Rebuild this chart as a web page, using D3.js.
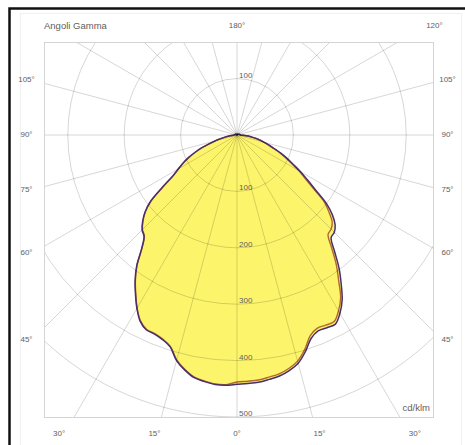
<!DOCTYPE html>
<html>
<head>
<meta charset="utf-8">
<script src="https://cdn.jsdelivr.net/npm/d3@7"></script>
<style>
body { margin: 0; background: #fff; }
text { font-family: "Liberation Sans", Arial, sans-serif; fill: #606060; }
</style>
</head>
<body>
<div id="chart"></div>
<script>
///////////////////// DATA /////////////////////////
// gamma angles (deg), 0 = straight down, 180 = straight up
const gamma = [0, 2.5, 5, 7.5, 10, 12.5, 15, 17.5, 20, 22.5, 25, 27.5, 30, 32.5, 35, 37.5,
	       40, 42.5, 45, 47.5, 50, 52.5, 55, 57.5, 60, 62.5, 65, 67.5, 70, 72.5, 75, 77.5,
	       80, 82.5, 85, 87.5, 90, 100, 110, 120, 130, 140, 150, 160, 170, 180];

// intensities cd/klm, plane C0-C180 (right half = C0, left half = C180)
const c0 = [442, 441, 440, 437, 434, 428, 419, 403, 384, 376, 377, 378, 365, 347, 322, 297,
	    269, 247, 244, 236, 221, 200, 170, 148, 130, 112, 98, 84, 70, 60, 50, 42,
	    34, 26, 17, 10, 6, 5, 4, 3, 2, 2, 1, 1, 0, 0];
const c180 = [443, 444, 444, 441, 437, 427, 414, 394, 386, 382, 381, 372, 355, 335, 315, 292,
	      263, 244, 238, 227, 213, 193, 161, 135, 120, 108, 95, 81, 67, 52, 40, 30,
	      22, 15, 10, 7, 5, 4, 3, 3, 2, 1, 1, 1, 0, 0];

// plane C90-C270 (right half = C90, left half = C270)
const c90 = [438, 437, 436, 433, 430, 424, 415, 399, 379, 371, 372, 373, 360, 342, 314, 289,
	     261, 239, 236, 229, 213, 195, 165, 143, 127, 109, 95, 82, 68, 58, 49, 41,
	     33, 25, 16, 9, 5, 5, 4, 3, 2, 2, 1, 1, 0, 0];
const c270 = [442, 443, 443, 440, 436, 426, 413, 393, 385, 381, 380, 371, 354, 334, 314, 291,
	      262, 243, 237, 226, 212, 192, 160, 134, 119, 107, 94, 80, 66, 51, 39, 29,
	      21, 14, 9, 6, 4, 4, 3, 3, 2, 1, 1, 1, 0, 0];

const radialTicks = [100, 200, 300, 400, 500];
const spokeAngles = [0, 15, 30, 45, 60, 75, 90, 105, 120, 135, 150, 165, 180,
		     195, 210, 225, 240, 255, 270, 285, 300, 315, 330, 345];
const topAngles = [180, 120];
const sideAngles = [105, 90, 75, 60, 45];
const bottomAngles = [-30, -15, 0, 15, 30];

///////////////////// LAYOUT /////////////////////////
let width = 465, height = 445;
let cx = 237, cy = 135;
let r = d3.scaleLinear().domain([0, 500]).range([0, 282]);
let plot = {x0: 44, x1: 433, y0: 42, y1: cy + r(500)};
let rad = d => d * Math.PI / 180;

let svg = d3.select("#chart")
    .append("svg")
    .attr("width", width)
    .attr("height", height);

svg.append("defs")
    .append("clipPath")
    .attr("id", "plot-clip")
    .append("rect")
    .attr("x", plot.x0).attr("y", plot.y0)
    .attr("width", plot.x1 - plot.x0).attr("height", plot.y1 - plot.y0);

// faint outer frame + black edge of the screenshot
svg.append("rect")
    .attr("x", 20.5).attr("y", 13.5)
    .attr("width", 441).attr("height", 440)
    .style("fill", "none")
    .style("stroke", "#f0f0f0");

svg.append("path")
    .attr("d", "M9.5,445V8.5H465")
    .style("fill", "none")
    .style("stroke", "#111")
    .style("stroke-width", 2.5);

///////////////////// CURVES /////////////////////////
// right half sweeps angle 0..pi, left half pi..2pi (lineRadial: 0 = up, clockwise)
let half = (values, side) => gamma.map((g, i) => ({a: Math.PI - side * rad(g), v: values[i]}));
let outline = (right, left) => half(right, 1).reverse().concat(half(left, -1).slice(1));

let line = d3.lineRadial()
    .angle(d => d.a)
    .radius(d => r(d.v))
    .curve(d3.curveCatmullRomClosed.alpha(0.5));

let curves = svg.append("g")
    .attr("transform", "translate(" + cx + "," + cy + ")");

curves.append("path")
    .attr("d", line(outline(c0, c180)))
    .style("fill", "#fcf56c")
    .style("stroke", "none");

///////////////////// GRID /////////////////////////
let grid = svg.append("g")
    .attr("clip-path", "url(#plot-clip)")
    .style("fill", "none")
    .style("stroke", "#000")
    .style("stroke-opacity", 0.16)
    .style("stroke-width", 1);

grid.selectAll("circle")
    .data(radialTicks)
    .join("circle")
    .attr("cx", cx)
    .attr("cy", cy)
    .attr("r", d => r(d));

grid.selectAll("line")
    .data(spokeAngles)
    .join("line")
    .attr("x1", cx)
    .attr("y1", cy)
    .attr("x2", d => cx + r(900) * Math.sin(rad(d)))
    .attr("y2", d => cy + r(900) * Math.cos(rad(d)));

svg.append("rect")
    .attr("x", plot.x0 + 0.5).attr("y", plot.y0 + 0.5)
    .attr("width", plot.x1 - plot.x0).attr("height", plot.y1 - plot.y0)
    .style("fill", "none")
    .style("stroke", "#d4d4d4");

curves.append("path")
    .attr("d", line(outline(c90, c270)))
    .style("fill", "none")
    .style("stroke", "#b0692e")
    .style("stroke-width", 1.4);

curves.append("path")
    .attr("d", line(outline(c0, c180)))
    .style("fill", "none")
    .style("stroke", "#4a2f6e")
    .style("stroke-width", 1.5);

///////////////////// LABELS /////////////////////////
let labels = svg.append("g")
    .style("font-size", "8px")
    .attr("dominant-baseline", "middle")
    .attr("text-anchor", "middle");

labels.append("text")
    .attr("x", plot.x0)
    .attr("y", 26)
    .attr("text-anchor", "start")
    .style("font-size", "9.5px")
    .text("Angoli Gamma");

labels.selectAll(".top")
    .data(topAngles)
    .join("text")
    .attr("class", "top")
    .attr("x", d => cx - 114 * Math.tan(rad(d)))
    .attr("y", 26)
    .text(d => d + "°");

[-1, 1].forEach(side => {
    labels.selectAll(".side" + side)
	.data(sideAngles)
	.join("text")
	.attr("class", "side" + side)
	.attr("x", cx + side * 210.5)
	.attr("y", d => cy + 205 / Math.tan(rad(d)))
	.text(d => d + "°");
});

labels.selectAll(".bottom")
    .data(bottomAngles)
    .join("text")
    .attr("class", "bottom")
    .attr("x", d => cx + 308 * Math.tan(rad(d)))
    .attr("y", 434)
    .text(d => Math.abs(d) + "°");

// radial values sit on their circle, just right of the vertical axis
let ticks = svg.append("g")
    .style("font-size", "8px");

ticks.selectAll(".down")
    .data(radialTicks)
    .join("text")
    .attr("class", "down")
    .attr("x", cx + 2)
    .attr("y", d => cy + r(d) - 1)
    .text(d => d);

ticks.selectAll(".up")
    .data(radialTicks.filter(d => cy - r(d) > plot.y0))
    .join("text")
    .attr("class", "up")
    .attr("x", cx + 2)
    .attr("y", d => cy - r(d) - 1)
    .text(d => d);

svg.append("text")
    .attr("x", plot.x1 - 3)
    .attr("y", 408)
    .attr("text-anchor", "end")
    .attr("dominant-baseline", "middle")
    .style("font-size", "9.5px")
    .text("cd/klm");
</script>
</body>
</html>
